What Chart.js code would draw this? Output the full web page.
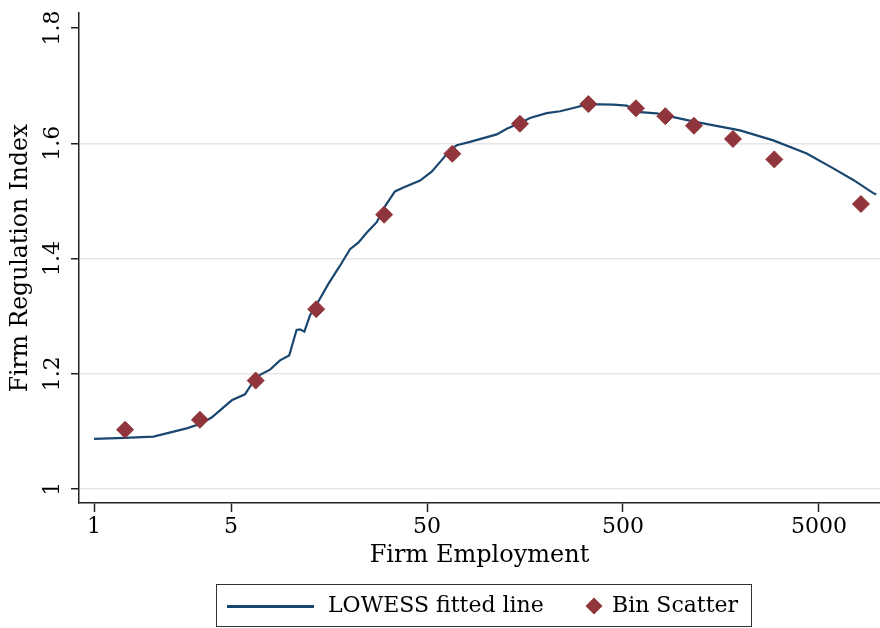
<!DOCTYPE html>
<html lang="en">
<head>
    <meta charset="UTF-8">
    <title>Firm Regulation Index by Firm Employment</title>
    <style>
        body {
            margin: 0;
            background: #fff;
            font-family: "DejaVu Serif", serif;
        }

        .wrap {
            position: relative;
            width: 880px;
            height: 628px;
        }

        #legend {
            position: absolute;
            left: 216px;
            top: 584px;
            width: 534px;
            height: 41px;
            border: 1.5px solid #333;
            font-size: 22px;
            color: #000;
        }

        #legend .line {
            position: absolute;
            left: 10px;
            top: 20px;
            width: 87px;
            height: 3px;
            background: #1a476f;
        }

        #legend .diamond {
            position: absolute;
            left: 371px;
            top: 15px;
            width: 12px;
            height: 12px;
            background: #90353b;
            transform: rotate(45deg);
        }

        #legend .txt {
            position: absolute;
            top: 7px;
            line-height: 26px;
            white-space: nowrap;
        }
    </style>
</head>
<body>
    <div class="wrap">
        <canvas id="chart" width="880" height="628"></canvas>
        <div id="legend">
            <span class="line"></span>
            <span class="txt" style="left:111px">LOWESS fitted line</span>
            <span class="diamond"></span>
            <span class="txt" style="left:395px">Bin Scatter</span>
        </div>
    </div>

    <script src="https://cdn.jsdelivr.net/npm/chart.js"></script>
    <script>
        // LOWESS fitted line
        const lowessX = [1, 1.44, 2.01, 2.97, 3.47, 3.98, 5.04, 5.89, 6.38, 7.03, 7.91, 8.89, 9.9,
            10.8, 11.25, 11.83, 12.65, 13.6, 15.69, 17.99, 20.24, 22.3, 24.6, 27.7, 30.5, 34.3,
            37.9, 46.1, 52.8, 59.4, 65.5, 70.9, 82.8, 113.4, 127.6, 149, 167.7, 204, 238.7, 279,
            332.6, 446, 522, 611, 743, 903, 1189, 1977, 2924, 4327, 5915, 7482, 9464, 9800];
        const lowessY = [1.0866, 1.0885, 1.0906, 1.1049, 1.1124, 1.1238, 1.1537, 1.164, 1.182, 1.198,
            1.207, 1.223, 1.2316, 1.2757, 1.2768, 1.2728, 1.3015, 1.3187, 1.3558, 1.3874, 1.416,
            1.4275, 1.4447, 1.463, 1.4906, 1.5164, 1.5232, 1.5353, 1.5507, 1.5707, 1.5879, 1.5965,
            1.6023, 1.6154, 1.6252, 1.635, 1.644, 1.6522, 1.6556, 1.6613, 1.668, 1.667, 1.6652,
            1.6539, 1.652, 1.6453, 1.6367, 1.6223, 1.605, 1.5822, 1.5564, 1.5363, 1.5134, 1.511];

        // bin scatter
        const binX = [1.44, 3.47, 6.68, 13.6, 30.2, 67.3, 149, 332.6, 582, 822, 1151, 1820, 2958, 8188];
        const binY = [1.1026, 1.1198, 1.188, 1.312, 1.476, 1.5817, 1.6338, 1.668, 1.6608, 1.647,
            1.6303, 1.6075, 1.572, 1.4945];

        const xTicks = [1, 5, 50, 500, 5000];
        const yTicks = [1, 1.2, 1.4, 1.6, 1.8];

        const serif = "'DejaVu Serif', serif";

        const ctx = document.getElementById("chart").getContext("2d");
        new Chart(ctx, {
            type: "scatter",
            data: {
                datasets: [
                    {
                        label: "LOWESS fitted line",
                        data: lowessX.map((x, i) => ({ x: x, y: lowessY[i] })),
                        showLine: true,
                        borderColor: "#1a476f",
                        borderWidth: 2.2,
                        pointRadius: 0,
                        tension: 0,
                        order: 2
                    },
                    {
                        label: "Bin Scatter",
                        data: binX.map((x, i) => ({ x: x, y: binY[i] })),
                        pointStyle: "rectRot",
                        pointRadius: 8.5,
                        backgroundColor: "#90353b",
                        borderColor: "#90353b",
                        borderWidth: 1,
                        order: 1
                    }
                ]
            },
            options: {
                responsive: false,
                animation: false,
                devicePixelRatio: 1,
                layout: { autoPadding: false, padding: { top: 8, right: 0, bottom: 58, left: 0 } },
                plugins: {
                    legend: { display: false },
                    tooltip: { enabled: false }
                },
                scales: {
                    x: {
                        type: "logarithmic",
                        min: 0.838,
                        max: 10240,
                        afterBuildTicks: (s) => { s.ticks = xTicks.map(v => ({ value: v })); },
                        afterFit: (s) => {
                            s.height = 67;
                            s.paddingLeft = 0;
                            s.paddingRight = 0;
                        },
                        ticks: {
                            color: "#000",
                            font: { family: serif, size: 22 },
                            padding: 2,
                            maxRotation: 0,
                            callback: (v) => String(v)
                        },
                        grid: {
                            drawOnChartArea: false,
                            tickLength: 9,
                            tickColor: "#222",
                            tickWidth: 1.5
                        },
                        border: { color: "#222", width: 1.5 },
                        title: {
                            display: true,
                            text: "Firm Employment",
                            color: "#000",
                            font: { family: serif, size: 24 },
                            padding: { top: 0, bottom: 0 }
                        }
                    },
                    y: {
                        min: 0.9754,
                        max: 1.8258,
                        afterBuildTicks: (s) => { s.ticks = yTicks.map(v => ({ value: v })); },
                        afterFit: (s) => { s.width = 79; },
                        ticks: {
                            color: "#000",
                            font: { family: serif, size: 22 },
                            minRotation: 90,
                            maxRotation: 90,
                            crossAlign: "center",
                            padding: 0,
                            callback: (v) => String(Math.round(v * 10) / 10)
                        },
                        grid: {
                            color: (c) => (c.tick && c.tick.value === 1.8) ? "rgba(0,0,0,0)" : "#e6e6e6",
                            lineWidth: 1.5,
                            tickLength: 8,
                            tickColor: "#222",
                            tickWidth: 1.5
                        },
                        border: { color: "#222", width: 1.5 },
                        title: {
                            display: true,
                            text: "Firm Regulation Index",
                            color: "#000",
                            font: { family: serif, size: 23.5 },
                            padding: { top: 7, bottom: 0 }
                        }
                    }
                }
            }
        });
    </script>
</body>
</html>
